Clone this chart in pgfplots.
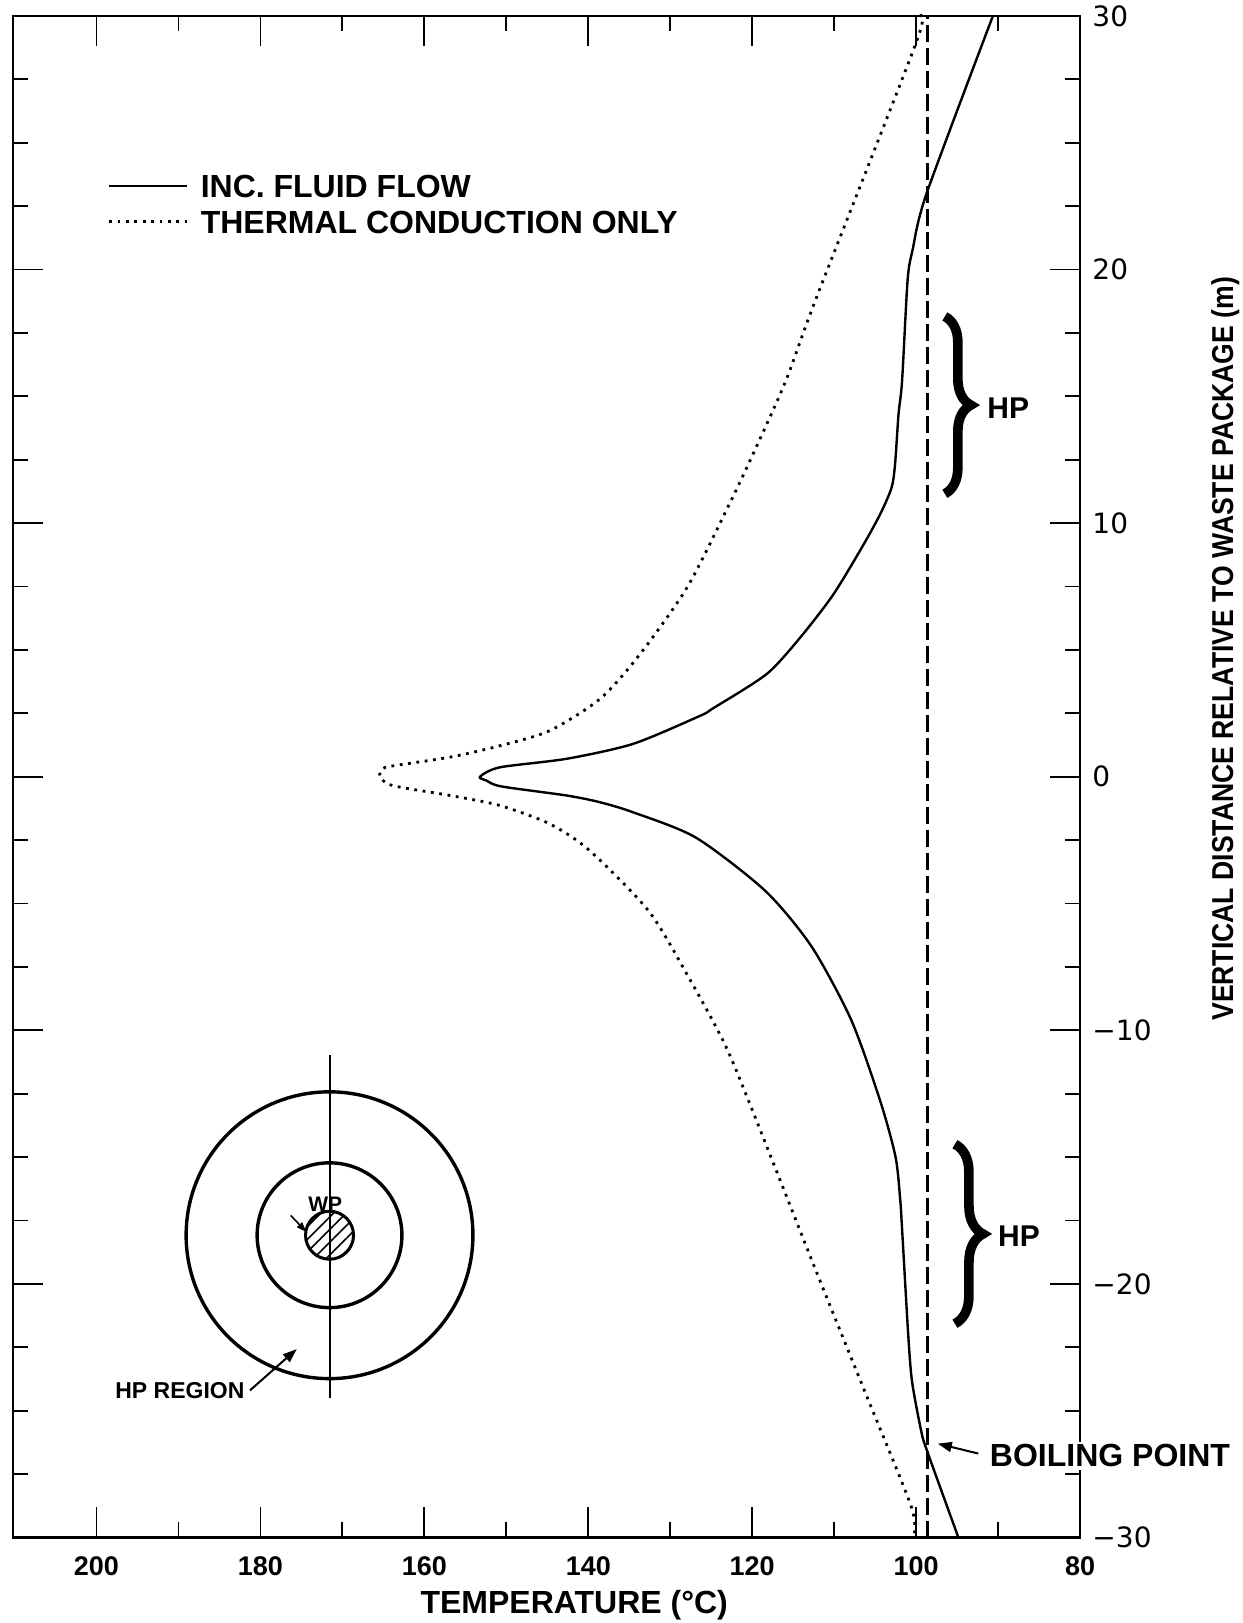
\documentclass[border=0pt]{standalone}
\usepackage{fontspec}
\setmainfont{Liberation Sans}
\newfontfamily\tickfont{DejaVu Sans}
\newfontfamily\condfont[FakeStretch=0.88]{Liberation Sans}
\usepackage{pgfplots}
\pgfplotsset{compat=1.18}
\usetikzlibrary{decorations.pathreplacing, patterns.meta, arrows.meta}

\begin{document}
\begin{tikzpicture}
\begin{axis}[
  at={(0,0)}, anchor=south west,
  scale only axis,
  width=533.6pt, height=760.75pt,
  x dir=reverse,
  xmin=80, xmax=210.2,
  ymin=-30, ymax=30,
  clip=false,
  axis line style={line width=1.3pt},
  xtick={80,100,120,140,160,180,200},
  xticklabels={80,100,120,140,160,180,200},
  minor xtick={90,110,130,150,170,190},
  ytick={-30,-20,-10,0,10,20,30},
  yticklabels={−30,−20,−10,0,10,20,30},
  minor ytick={-27.5,-25,-22.5,-17.5,-15,-12.5,-7.5,-5,-2.5,2.5,5,7.5,12.5,15,17.5,22.5,25,27.5},
  tick align=inside,
  xtick pos=both, ytick pos=both,
  xticklabel pos=bottom, yticklabel pos=right,
  major tick length=15pt,
  minor tick length=7.5pt,
  every tick/.append style={line width=0.9pt, black},
  xticklabel style={font=\bfseries\fontsize{13.5}{13.5}\selectfont, anchor=center, yshift=-14.5pt},
  yticklabel style={font=\tickfont\fontsize{14}{14}\selectfont, anchor=west, inner sep=0pt, xshift=6pt},
  xlabel={TEMPERATURE (°C)},
  ylabel={VERTICAL DISTANCE RELATIVE TO WASTE PACKAGE (m)},
  every axis x label/.style={at={(axis description cs:0.526,0)}, anchor=center, yshift=-34pt, font=\bfseries\fontsize{16}{16}\selectfont},
  every axis y label/.style={at={(axis description cs:1.136,0.3394)}, anchor=west, inner sep=0pt, rotate=90, font=\condfont\bfseries\fontsize{15.1}{15.1}\selectfont},
  legend cell align=left,
  legend image code/.code={\draw[#1] (0pt,0pt) -- (38.8pt,0pt);},
  legend style={draw=none, fill=none,
    at={(axis description cs:0.0889,0.896)}, anchor=north west,
    inner sep=0pt, outer sep=0pt,
    row sep=6.5pt, column sep=6.3pt,
    nodes={inner sep=0pt, text height=11.5pt, text depth=0pt},
    font=\bfseries\fontsize{16}{16}\selectfont},
]
% INC. FLUID FLOW
\addplot[black, line width=1.2pt, smooth, tension=0.45] coordinates {
(90.64,30.0) (98.73,23.0) (100.42,20.8) (101.04,19.6) (101.72,15.6)
(102.15,14.3) (102.58,12.3) (103.00,11.4) (104.32,10.4) (106.34,9.2)
(110.08,7.2) (114.12,5.5) (118.24,4.05) (124.77,2.7) (126.38,2.4)
(134.50,1.3) (142.61,0.71) (150.81,0.37) (153.22,0.0) (152.43,-0.15)
(150.63,-0.38) (142.64,-0.74) (138.64,-1.0) (134.55,-1.4) (126.87,-2.4)
(118.41,-4.5) (112.75,-6.7) (107.91,-9.6) (104.37,-12.8) (102.51,-15.0)
(101.94,-16.7) (101.76,-17.6) (100.95,-22.1) (100.48,-23.9) (99.32,-25.9)
(98.54,-26.7) (94.85,-30.0)
};
\addlegendentry{INC. FLUID FLOW}
% THERMAL CONDUCTION ONLY
\addplot[black, line width=1.4pt, dash pattern=on 1.4pt off 2.8pt, smooth, tension=0.45] coordinates {
(99.54,30.0) (100.06,28.9) (112.16,18.9) (115.92,15.6) (120.08,12.6)
(123.02,10.6) (127.88,7.5) (133.53,4.9) (138.46,3.1) (144.69,1.82)
(150.80,1.22) (156.91,0.77) (163.41,0.45) (165.02,0.33) (165.42,0.0)
(163.83,-0.35) (156.84,-0.74) (150.84,-1.13) (144.76,-1.85) (139.88,-2.9)
(132.62,-5.3) (127.77,-7.9) (123.42,-10.5) (120.17,-13.0) (112.20,-19.5)
(106.19,-24.3) (100.58,-28.8) (100.3,-30.0)
};
\addlegendentry{THERMAL CONDUCTION ONLY}
% boiling point
\addplot[black, line width=1.7pt, dash pattern=on 8.5pt off 3pt, forget plot] coordinates {(98.6,-30) (98.6,30)};

% HP braces
\draw[line width=4.8pt, decorate, decoration={brace, amplitude=13pt}] (axis cs:96.5,18.15) -- (axis cs:96.5,11.16);
\node[font=\bfseries\fontsize{15}{15}\selectfont] at (axis cs:88.76,14.53) {HP};
\draw[line width=4.8pt, decorate, decoration={brace, amplitude=14pt}] (axis cs:95.27,-14.49) -- (axis cs:95.27,-21.57);
\node[font=\bfseries\fontsize{15}{15}\selectfont] at (axis cs:87.46,-18.1) {HP};

% boiling point label
\node[font=\bfseries\fontsize{16}{16}\selectfont, fill=white, anchor=west, inner sep=1.5pt] at (axis cs:91.41,-26.78) {BOILING POINT};
\draw[-{Triangle[length=7pt,width=5pt]}, line width=1pt] (axis cs:92.42,-26.69) -- (axis cs:97.36,-26.3);

% inset
\draw[line width=1.7pt] (axis cs:171.57,-18.08) circle[radius=71.7pt];
\draw[line width=1.7pt] (axis cs:171.57,-18.08) circle[radius=36.2pt];
\draw[line width=1.5pt, pattern={Lines[angle=45,distance=4.5pt,line width=0.8pt]}] (axis cs:171.57,-18.08) circle[radius=12pt];
\draw[line width=1pt] (axis cs:171.57,-10.98) -- (axis cs:171.57,-24.5);
\node[anchor=base, font=\bfseries\fontsize{10.5}{10.5}\selectfont, inner sep=0pt] at (axis cs:172.1,-17.16) {WP};
\draw[-{Triangle[length=5pt,width=3.5pt]}, line width=0.8pt] (axis cs:176.3,-17.3) -- (axis cs:174.4,-17.95);
\node[anchor=east, font=\bfseries\fontsize{11.5}{11.5}\selectfont, inner sep=1pt] at (axis cs:181.66,-24.2) {HP REGION};
\draw[-{Triangle[length=7pt,width=5pt]}, line width=1pt] (axis cs:181.28,-24.2) -- (axis cs:175.57,-22.57);
\end{axis}
\pgfresetboundingbox
\path[use as bounding box] (-6.45pt,-42.75pt) rectangle (614.6pt,768.75pt);
\end{tikzpicture}
\end{document}
